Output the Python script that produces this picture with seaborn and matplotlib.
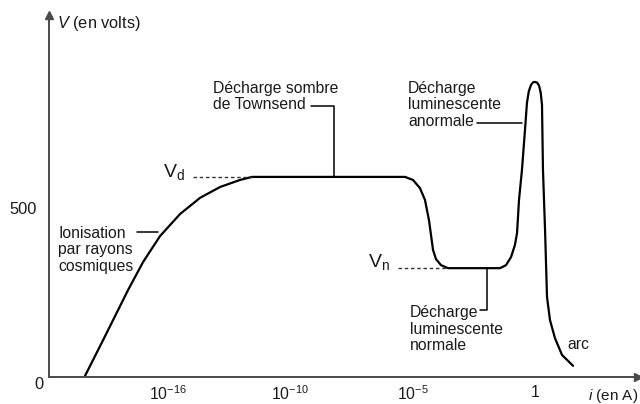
import matplotlib
matplotlib.use("Agg")
import matplotlib.pyplot as plt
import seaborn as sns

# ---- data (schematic positions: 1..4 = the four labelled current decades) ----
x_tick_pos = [1, 2, 3, 4]
x_tick_labels = ["$10^{-16}$", "$10^{-10}$", "$10^{-5}$", "1"]
y_tick_pos = [500]
y_tick_labels = ["500"]

curve_x = [0.321, 0.469, 0.673, 0.796, 0.935, 1.098, 1.262, 1.425, 1.589, 1.687,
           2.938, 3.003, 3.060, 3.101, 3.134, 3.167, 3.191, 3.232, 3.289,
           3.715, 3.764, 3.805, 3.837, 3.854, 3.870, 3.894, 3.919, 3.935, 3.950,
           3.968, 3.985, 4.001, 4.018, 4.034, 4.048, 4.058, 4.066, 4.083, 4.099,
           4.123, 4.164, 4.222, 4.312]
curve_v = [3, 109, 257, 340, 417, 482, 530, 562, 583, 592,
           592, 583, 559, 524, 464, 376, 349, 331, 322,
           322, 331, 355, 391, 426, 524, 612, 731, 811, 845,
           864, 872, 873, 871, 862, 840, 805, 612, 435, 237,
           169, 115, 65, 33]

v_d = 592
v_n = 322
vd_dash_x = [1.204, 1.687]
vn_dash_x = [2.881, 3.289]

sns.set_theme(style="white")
plt.rcParams["font.family"] = ["Liberation Sans", "DejaVu Sans"]
plt.rcParams["mathtext.fontset"] = "custom"
plt.rcParams["mathtext.rm"] = "Liberation Sans"
plt.rcParams["mathtext.it"] = "Liberation Sans:italic"
plt.rcParams["mathtext.bf"] = "Liberation Sans:bold"

TXT = "#1a1a1a"
AX = "#4a4a4a"
FS = 11.3

fig = plt.figure(figsize=(6.4, 4.04), dpi=100)
ax = fig.add_axes([49 / 640, (404 - 377) / 404, (638 - 49) / 640, (377 - 15) / 404])

sns.lineplot(x=curve_x, y=curve_v, sort=False, estimator=None, color="black",
             linewidth=1.6, ax=ax)

# dotted guides for Vd and Vn
ax.plot(vd_dash_x, [v_d, v_d], color="#333333", lw=1.0, ls=(0, (2.5, 2)))
ax.plot(vn_dash_x, [v_n, v_n], color="#333333", lw=1.0, ls=(0, (2.5, 2)))

ax.set_xlim(0.027, 4.843)
ax.set_ylim(0, 1071)

for s in ["top", "right"]:
    ax.spines[s].set_visible(False)
for s in ["left", "bottom"]:
    ax.spines[s].set_color(AX)
    ax.spines[s].set_linewidth(1.4)

ax.set_xticks(x_tick_pos)
ax.set_xticklabels(x_tick_labels, fontsize=FS, color=TXT)
ax.set_yticks(y_tick_pos)
ax.set_yticklabels(y_tick_labels, fontsize=FS + 0.5, color=TXT)
ax.tick_params(axis="x", direction="out", length=4, width=1, color=AX, pad=1.5)
ax.tick_params(axis="y", direction="out", length=7, width=1.2, color=AX, pad=2)

# arrow heads
ax.plot(1, 0, marker=">", color=AX, ms=6, transform=ax.transAxes, clip_on=False)
ax.plot(0, 1, marker="^", color=AX, ms=6, transform=ax.transAxes, clip_on=False)

# axis titles
ax.text(0.092, 1047, "$\\it{V}$ (en volts)", fontsize=FS + 0.5, color=TXT,
        ha="left", va="center", clip_on=False)
ax.text(4.435, -57, "$\\it{i}$ (en A)", fontsize=FS - 0.3, color=TXT,
        ha="left", va="center", clip_on=False)
ax.text(-0.014, -21, "0", fontsize=FS + 0.5, color=TXT, ha="right", va="center",
        clip_on=False)

# V_d, V_n labels
ax.text(0.959, 592, "$\\mathrm{V_d}$", fontsize=14, color=TXT, ha="left",
        va="baseline")
ax.text(2.635, 325, "$\\mathrm{V_n}$", fontsize=14, color=TXT, ha="left",
        va="baseline")

# annotations
ax.text(1.368, 830, "Décharge sombre\nde Townsend", fontsize=FS, color=TXT,
        ha="left", va="center", linespacing=1.15)
ax.plot([2.169, 2.357, 2.357], [802, 802, 592], color="black", lw=1.1)

ax.text(2.962, 805, "Décharge\nluminescente\nanormale", fontsize=FS, color=TXT,
        ha="left", va="center", linespacing=1.15)
ax.plot([3.527, 3.894], [751, 751], color="black", lw=1.1)

ax.text(0.101, 376, "Ionisation\npar rayons\ncosmiques", fontsize=FS, color=TXT,
        ha="left", va="center", linespacing=1.15)
ax.plot([0.747, 0.915], [429, 429], color="black", lw=1.1)

ax.text(2.979, 142, "Décharge\nluminescente\nnormale", fontsize=FS, color=TXT,
        ha="left", va="center", linespacing=1.15)
ax.plot([3.551, 3.608, 3.608], [198, 198, 322], color="black", lw=1.1)

ax.text(4.262, 95, "arc", fontsize=FS, color=TXT, ha="left", va="center")

ax.set_xlabel("")
ax.set_ylabel("")
fig.savefig("out.png", dpi=100)
